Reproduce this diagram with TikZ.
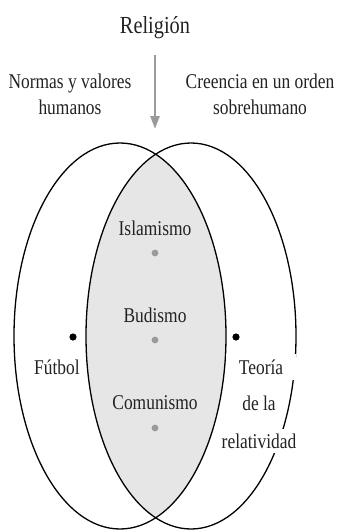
\documentclass[tikz,border=0pt]{standalone}
\usepackage{xcolor}
\usepackage{fontspec}
\setmainfont{Liberation Serif}[FakeStretch=0.83]
\usetikzlibrary{arrows.meta}
\definecolor{LensGray}{HTML}{E6E6E6}
\definecolor{DotGray}{HTML}{9A9A9A}
\definecolor{TextGray}{HTML}{222222}
\tikzset{
  tag/.style={inner sep=1pt, text=TextGray, font=\fontsize{21}{26}\selectfont, align=center},
  ring/.style={line width=1.3pt}
}

\begin{document}
\begin{tikzpicture}[x=1pt, y=-1pt]
        \useasboundingbox (0,0) rectangle (340,531);
        % lens shared by both sets
        \begin{scope}
            \clip (120,336) ellipse [x radius=106pt, y radius=193pt];
            \fill[LensGray] (191,336) ellipse [x radius=105pt, y radius=193pt];
        \end{scope}
        \draw[ring] (120,336) ellipse [x radius=106pt, y radius=193pt];
        \draw[ring] (191,336) ellipse [x radius=105pt, y radius=193pt];
        % headings
        \node[tag, font=\fontsize{24.5}{28}\selectfont] (religion) at (155,28) {Religión};
        \node[tag] (normas) at (70,94) {Normas y valores\\humanos};
        \node[tag] (creencia) at (260,94) {Creencia en un orden\\sobrehumano};
        \coordinate (arrowtop) at (155,55);
        \coordinate (arrowend) at (155,129);
        \draw[DotGray, line width=2.6pt, -{Triangle[width=9pt,length=13pt]}] (arrowtop) -- (arrowend);
        % inside the lens
        \foreach \name/\txt/\y in {islam/Islamismo/228, buda/Budismo/315, comun/Comunismo/403} {
            \node[tag] (\name) at (155,\y) {\txt};
            \fill[DotGray] (155,\y+25) circle (3.4pt);
        }
        % outside the lens
        \fill (73,337) circle (3.6pt);
        \node[tag] (futbol) at (57,367) {Fútbol};
        \fill (236,337) circle (3.6pt);
        \node[tag, fill=white, minimum width=70pt, inner ysep=6pt] (teoria) at (261,367) {Teoría};
        \node[tag] (dela) at (259,403) {de la};
        \node[tag, fill=white, inner ysep=5pt] (relat) at (259,441) {relatividad};
    \end{tikzpicture}
\end{document}
